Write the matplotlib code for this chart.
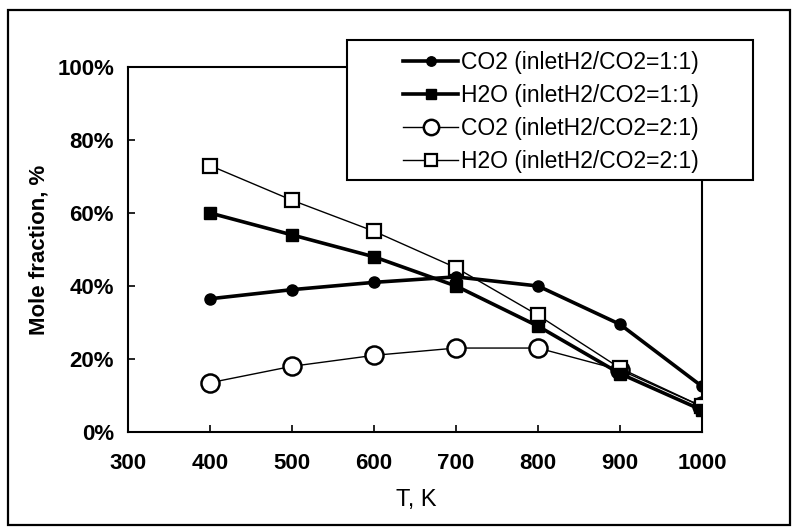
import matplotlib
matplotlib.use("Agg")
import matplotlib.pyplot as plt
from matplotlib.patches import Rectangle
from matplotlib.ticker import FuncFormatter

temps = [400, 500, 600, 700, 800, 900, 1000]
co2_11 = [36.5, 39.0, 41.0, 42.5, 40.0, 29.5, 12.5]
h2o_11 = [60.0, 54.0, 48.0, 40.0, 29.0, 16.0, 6.0]
co2_21 = [13.5, 18.0, 21.0, 23.0, 23.0, 17.0, 7.0]
h2o_21 = [73.0, 63.5, 55.0, 45.0, 32.0, 17.5, 7.0]
labels = ["CO2 (inletH2/CO2=1:1)", "H2O (inletH2/CO2=1:1)",
          "CO2 (inletH2/CO2=2:1)", "H2O (inletH2/CO2=2:1)"]
xticks = [300, 400, 500, 600, 700, 800, 900, 1000]
yticks = [0, 20, 40, 60, 80, 100]

W, H = 793, 529
plt.rcParams['font.family'] = ["Liberation Sans", "DejaVu Sans"]
fig = plt.figure(figsize=(W / 100, H / 100), dpi=100)

# outer frame
fig.patches.append(Rectangle((8 / W, 1 - 525 / H), (790 - 8) / W, (525 - 10) / H,
                             transform=fig.transFigure, fill=False, lw=1.6,
                             edgecolor='black'))

L, R, T, B = 128, 702, 67, 432
ax = fig.add_axes([L / W, 1 - B / H, (R - L) / W, (B - T) / H])
ax.plot(temps, co2_11, '-o', color='black', lw=2.6, ms=8, label=labels[0], zorder=4)
ax.plot(temps, h2o_11, '-s', color='black', lw=2.6, ms=8, label=labels[1], zorder=4)
ax.plot(temps, co2_21, '-o', color='black', lw=1.0, ms=13, mfc='white', mew=1.8,
        label=labels[2], zorder=3)
ax.plot(temps, h2o_21, '-s', color='black', lw=1.0, ms=10, mfc='white', mew=1.6,
        label=labels[3], zorder=3)

ax.set_xlim(300, 1000)
ax.set_ylim(0, 100)
ax.set_xticks(xticks)
ax.set_yticks(yticks)
ax.yaxis.set_major_formatter(FuncFormatter(lambda v, p: f"{int(v)}%"))
ax.tick_params(direction='in', length=5, width=1.2, labelsize=16)
ax.tick_params(axis='x', pad=15)
ax.tick_params(axis='y', pad=10)
for lab in ax.get_xticklabels() + ax.get_yticklabels():
    lab.set_fontweight('bold')
for s in ax.spines.values():
    s.set_linewidth(1.5)

aw, ah = R - L, B - T
ax.set_xlabel("T, K", fontsize=17, va='top')
ax.xaxis.set_label_coords(0.503, (B - 489) / ah)
ax.set_ylabel("Mole fraction, %", fontsize=16, fontweight='bold')
ax.yaxis.set_label_coords((49 - L) / aw, 0.5)

# legend frame (extends beyond the axes like the reference)
lx0, lx1, ly0, ly1 = 347, 753, 40, 180
ax.add_patch(Rectangle(((lx0 - L) / aw, (B - ly1) / ah), (lx1 - lx0) / aw,
                       (ly1 - ly0) / ah, transform=ax.transAxes, facecolor='white',
                       edgecolor='black', lw=1.5, clip_on=False, zorder=8))
leg = ax.legend(loc='center',
                bbox_to_anchor=((551 - L) / aw, (B - 112) / ah),
                frameon=False, fontsize=16.5, handlelength=2.4, handletextpad=0.12,
                labelspacing=0.45, borderpad=0, markerscale=0.85)
leg.set_zorder(10)

fig.savefig("out.png", dpi=100)
